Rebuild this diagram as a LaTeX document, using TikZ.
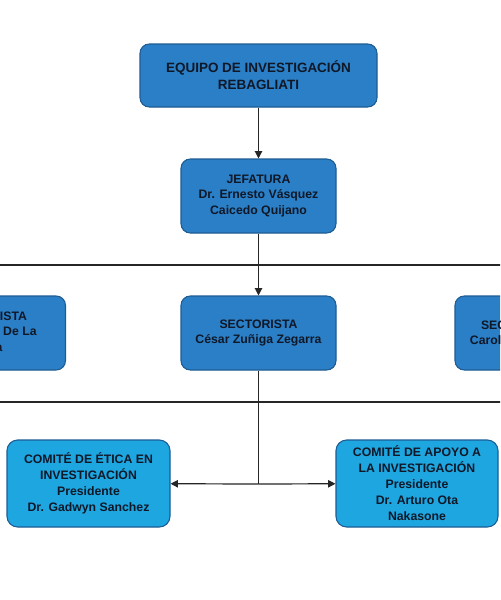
\documentclass[tikz,border=0pt]{standalone}
\usepackage{fontspec}
\setmainfont{Liberation Sans}
\usetikzlibrary{arrows.meta}
\definecolor{boxblue}{HTML}{2A7FC6}
\definecolor{boxcyan}{HTML}{1EA6E0}
\definecolor{boxedge}{HTML}{1D5C94}
\definecolor{txt}{HTML}{101828}
\tikzset{
  orgbox/.style={draw=boxedge, line width=0.8pt, fill=boxblue, rounded corners=7pt,
    align=center, text=txt, font=\bfseries\fontsize{9.2}{11.6}\selectfont, inner sep=0pt},
  combox/.style={orgbox, fill=boxcyan, rounded corners=8pt, font=\bfseries\fontsize{9.2}{12}\selectfont},
  conn/.style={line width=0.9pt, draw=black!85},
  arr/.style={conn, -{Triangle[length=5.5pt,width=5.5pt]}}
}
\begin{document}
\begin{tikzpicture}[x=0.75pt,y=-0.75pt]
\useasboundingbox (0,0) rectangle (500,600);
\clip (0,0) rectangle (500,600);
\fill[white] (0,0) rectangle (500,600);

\node[orgbox, minimum width=177.75pt, minimum height=47.25pt, font=\bfseries\fontsize{10.1}{12.8}\selectfont] (top) at (258.5,75.5)
  {EQUIPO DE INVESTIGACIÓN\\REBAGLIATI};
\node[orgbox, minimum width=116.25pt, minimum height=55.5pt] (jef) at (258.5,196)
  {JEFATURA\\Dr. Ernesto Vásquez\\Caicedo Quijano};
\node[orgbox, minimum width=116.25pt, minimum height=55.5pt] (sec) at (258.5,333)
  {SECTORISTA\\César Zuñiga Zegarra};
\node[orgbox, minimum width=116.25pt, minimum height=55.5pt] (secl) at (-12,333)
  {SECTORISTA\\Dra. María De La\\Vega};
\node[orgbox, minimum width=97.5pt, minimum height=55.5pt] (secr) at (520,333)
  {SECTORISTA\\Carolina Ramírez};
\node[combox, minimum width=122.25pt, minimum height=65.25pt] (eti) at (88.5,483.5)
  {COMITÉ DE ÉTICA EN\\INVESTIGACIÓN\\Presidente\\Dr. Gadwyn Sanchez};
\node[combox, minimum width=121.5pt, minimum height=65.25pt] (apo) at (417,483.5)
  {COMITÉ DE APOYO A\\LA INVESTIGACIÓN\\Presidente\\Dr. Arturo Ota\\Nakasone};

\coordinate (j1) at (258.5,265);
\coordinate (s1) at (258.5,402);
\coordinate (b1) at (258.5,484);

\draw[arr] (top) -- (jef);
\draw[conn] (jef) -- (j1);
\draw[arr] (j1) -- (sec);
\draw[arr] (j1) -| (secl);
\draw[arr] (j1) -| (secr);
\draw[conn] (secl) |- (s1);
\draw[conn] (secr) |- (s1);
\draw[conn] (sec) -- (b1);
\draw[arr] (b1) -- (eti);
\draw[arr] (b1) -- (apo);
\end{tikzpicture}
\end{document}
